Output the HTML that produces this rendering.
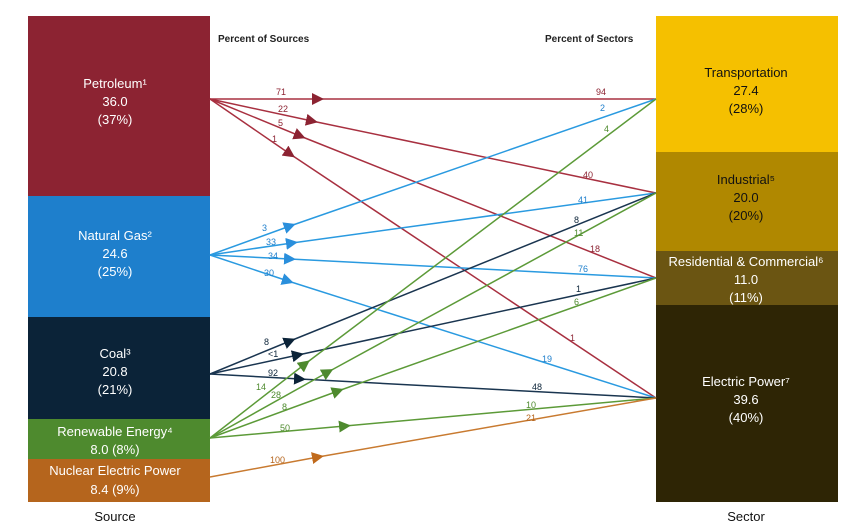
<!DOCTYPE html>
<html><head><meta charset="utf-8"><style>
html,body{margin:0;padding:0;background:#fff;}
svg{display:block;font-family:"Liberation Sans",sans-serif;}
</style></head><body>
<svg width="865" height="529" viewBox="0 0 865 529" xmlns="http://www.w3.org/2000/svg">
<defs>
<marker id="mp" viewBox="0 0 10 10" refX="5" refY="5" markerWidth="12" markerHeight="12" markerUnits="userSpaceOnUse" orient="auto"><path d="M0,0L10,5L0,10z" fill="#8c2332"/></marker>
<marker id="mg" viewBox="0 0 10 10" refX="5" refY="5" markerWidth="12" markerHeight="12" markerUnits="userSpaceOnUse" orient="auto"><path d="M0,0L10,5L0,10z" fill="#2a8fdc"/></marker>
<marker id="mc" viewBox="0 0 10 10" refX="5" refY="5" markerWidth="12" markerHeight="12" markerUnits="userSpaceOnUse" orient="auto"><path d="M0,0L10,5L0,10z" fill="#0b2338"/></marker>
<marker id="mr" viewBox="0 0 10 10" refX="5" refY="5" markerWidth="12" markerHeight="12" markerUnits="userSpaceOnUse" orient="auto"><path d="M0,0L10,5L0,10z" fill="#4e8a2e"/></marker>
<marker id="mn" viewBox="0 0 10 10" refX="5" refY="5" markerWidth="12" markerHeight="12" markerUnits="userSpaceOnUse" orient="auto"><path d="M0,0L10,5L0,10z" fill="#c06a1c"/></marker>
</defs>
<!-- left boxes -->
<rect x="28" y="16" width="182" height="180" fill="#8c2332"/>
<rect x="28" y="196" width="182" height="121" fill="#1e7fcc"/>
<rect x="28" y="317" width="182" height="102" fill="#0b2338"/>
<rect x="28" y="419" width="182" height="40" fill="#4e8a2e"/>
<rect x="28" y="459" width="182" height="43" fill="#b5651d"/>
<!-- right boxes -->
<rect x="656" y="16" width="182" height="136" fill="#f5c000"/>
<rect x="656" y="152" width="182" height="99" fill="#b08800"/>
<rect x="656" y="251" width="182" height="54" fill="#6b5512"/>
<rect x="656" y="305" width="182" height="197" fill="#2e2505"/>
<g fill="#fff" font-size="13" text-anchor="middle">
<text x="115" y="88">Petroleum¹</text><text x="115" y="106">36.0</text><text x="115" y="124">(37%)</text>
<text x="115" y="240">Natural Gas²</text><text x="115" y="258">24.6</text><text x="115" y="276">(25%)</text>
<text x="115" y="358">Coal³</text><text x="115" y="376">20.8</text><text x="115" y="394">(21%)</text>
<text x="115" y="436">Renewable Energy⁴</text><text x="115" y="454">8.0 (8%)</text>
<text x="115" y="475">Nuclear Electric Power</text><text x="115" y="494">8.4 (9%)</text>
</g>
<g fill="#111" font-size="13" text-anchor="middle">
<text x="746" y="77">Transportation</text><text x="746" y="95">27.4</text><text x="746" y="113">(28%)</text>
<text x="746" y="184">Industrial⁵</text><text x="746" y="202">20.0</text><text x="746" y="220">(20%)</text>
</g>
<g fill="#fff" font-size="13" text-anchor="middle">
<text x="746" y="266">Residential &amp; Commercial⁶</text><text x="746" y="284">11.0</text><text x="746" y="302">(11%)</text>
<text x="746" y="386">Electric Power⁷</text><text x="746" y="404">39.6</text><text x="746" y="422">(40%)</text>
</g>
<g font-size="10" font-weight="bold" fill="#222">
<text x="218" y="42">Percent of Sources</text>
<text x="545" y="42">Percent of Sectors</text>
</g>
<g font-size="13" fill="#111" text-anchor="middle">
<text x="115" y="521">Source</text><text x="746" y="521">Sector</text>
</g>
<g fill="none" stroke-width="1.5">
<path d="M210,99 L318,99 L656,99" stroke="#a83040" marker-mid="url(#mp)"/>
<path d="M210,99 L312,121 L656,193" stroke="#a83040" marker-mid="url(#mp)"/>
<path d="M210,99 L300,136 L656,278" stroke="#a83040" marker-mid="url(#mp)"/>
<path d="M210,99 L290,154 L656,398" stroke="#a83040" marker-mid="url(#mp)"/>
<path d="M210,255 L290,226 L656,99" stroke="#2a9ae0" marker-mid="url(#mg)"/>
<path d="M210,255 L292,243 L656,193" stroke="#2a9ae0" marker-mid="url(#mg)"/>
<path d="M210,255 L290,259 L656,278" stroke="#2a9ae0" marker-mid="url(#mg)"/>
<path d="M210,255 L288,281 L656,398" stroke="#2a9ae0" marker-mid="url(#mg)"/>
<path d="M210,374 L290,341 L656,193" stroke="#1a3550" marker-mid="url(#mc)"/>
<path d="M210,374 L298,355 L656,278" stroke="#1a3550" marker-mid="url(#mc)"/>
<path d="M210,374 L300,379 L656,398" stroke="#1a3550" marker-mid="url(#mc)"/>
<path d="M210,438 L305,364 L656,99" stroke="#5c9a38" marker-mid="url(#mr)"/>
<path d="M210,438 L328,372 L656,193" stroke="#5c9a38" marker-mid="url(#mr)"/>
<path d="M210,438 L338,391 L656,278" stroke="#5c9a38" marker-mid="url(#mr)"/>
<path d="M210,438 L345,426 L656,398" stroke="#5c9a38" marker-mid="url(#mr)"/>
<path d="M210,477 L318,457 L656,398" stroke="#c87a30" marker-mid="url(#mn)"/>
</g>
<g font-size="9">
<g fill="#8c2332"><text x="276" y="95">71</text><text x="278" y="112">22</text><text x="278" y="126">5</text><text x="272" y="142">1</text>
<text x="596" y="95">94</text><text x="583" y="178">40</text><text x="590" y="252">18</text><text x="570" y="341">1</text></g>
<g fill="#1e7fcc"><text x="262" y="231">3</text><text x="266" y="245">33</text><text x="268" y="259">34</text><text x="264" y="276">30</text>
<text x="600" y="111">2</text><text x="578" y="203">41</text><text x="578" y="272">76</text><text x="542" y="362">19</text></g>
<g fill="#0b2338"><text x="264" y="345">8</text><text x="268" y="357">&lt;1</text><text x="268" y="376">92</text>
<text x="574" y="223">8</text><text x="576" y="292">1</text><text x="532" y="390">48</text></g>
<g fill="#4e8a2e"><text x="604" y="132">4</text><text x="574" y="236">11</text><text x="574" y="305">6</text><text x="526" y="408">10</text>
<text x="256" y="390">14</text><text x="271" y="398">28</text><text x="282" y="410">8</text><text x="280" y="431">50</text></g>
<g fill="#b5651d"><text x="526" y="421">21</text><text x="270" y="463">100</text></g>
</g>
</svg>
</body></html>
